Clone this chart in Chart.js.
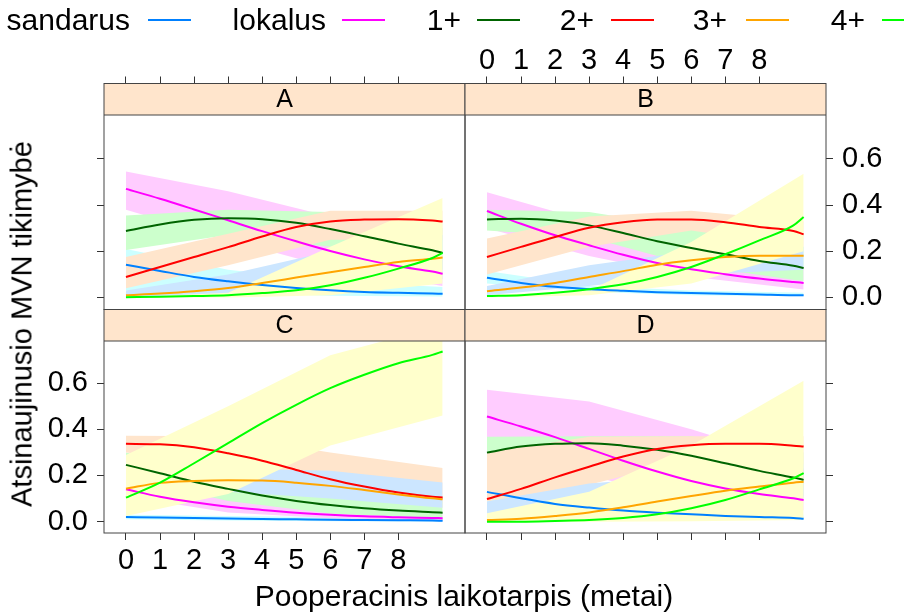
<!DOCTYPE html>
<html>
<head>
<meta charset="utf-8">
<script src="https://cdn.jsdelivr.net/npm/chart.js@4.4.1/dist/chart.umd.min.js"></script>
<style>
  html, body { margin: 0; padding: 0; background: #fff; }
  #wrap { position: relative; width: 904px; height: 615px; overflow: hidden;
          font-family: "Liberation Sans", Arial, sans-serif; color: #000; }
  #wrap canvas { position: absolute; left: 0; top: 0; }
  .lg { position: absolute; top: 5px; font-size: 30px; line-height: 30px; white-space: nowrap; }
  .lk { position: absolute; top: 19px; width: 43px; height: 0; border-top: 2px solid; }
  .ttl { position: absolute; font-size: 29px; line-height: 29px; white-space: nowrap; }
</style>
</head>
<body>
<div id="wrap">
  <canvas id="pA" width="904" height="615"></canvas>
  <canvas id="pB" width="904" height="615"></canvas>
  <canvas id="pC" width="904" height="615"></canvas>
  <canvas id="pD" width="904" height="615"></canvas>
  <div id="legend"></div>
  <div class="ttl" style="left:22px; top:324px; transform: translate(-50%, -50%) rotate(-90deg);">Atsinaujinusio MVN tikimybė</div>
  <div class="ttl" style="left:464px; top:581px; font-size:30px; line-height:30px; transform: translateX(-50%);">Pooperacinis laikotarpis (metai)</div>
</div>
<script>
const groups = ['sandarus', 'lokalus', '1+', '2+', '3+', '4+'];
const lineColors = ['#0080ff', '#ff00ff', '#006400', '#ff0000', '#ffa500', '#00ff00'];
const bandColors = ['#ccffff', '#ffccff', '#ccffcc', '#ffe5cc', '#cce6ff', '#ffffcc'];

const lineYears = [0, 1, 2, 3, 4, 5, 6, 7, 8, 9, 9.3];
const bandYears = [0, 3, 6, 9.3];
const xTicks = [0, 1, 2, 3, 4, 5, 6, 7, 8];
const yTicks = [0, 0.2, 0.4, 0.6];

// fitted curves, one row per group (sandarus, lokalus, 1+, 2+, 3+, 4+)
const linesA = [
  [0.142, 0.115, 0.089, 0.070, 0.054, 0.041, 0.031, 0.024, 0.020, 0.017, 0.016],
  [0.470, 0.427, 0.381, 0.334, 0.287, 0.243, 0.201, 0.165, 0.135, 0.112, 0.103],
  [0.288, 0.316, 0.336, 0.343, 0.339, 0.323, 0.296, 0.265, 0.233, 0.204, 0.193],
  [0.089, 0.132, 0.175, 0.218, 0.264, 0.305, 0.329, 0.337, 0.339, 0.333, 0.329],
  [0.010, 0.017, 0.027, 0.041, 0.063, 0.086, 0.109, 0.132, 0.154, 0.168, 0.173],
  [0.001, 0.003, 0.006, 0.010, 0.019, 0.031, 0.053, 0.085, 0.125, 0.171, 0.193]
];
const lowA = [
  [0.030, 0.020, 0.008, 0.004], [0.380, 0.250, 0.130, 0.050], [0.205, 0.270, 0.220, 0.120],
  [0.040, 0.140, 0.250, 0.250], [0.000, 0.010, 0.040, 0.080], [0.000, 0.000, 0.010, 0.060]
];
const highA = [
  [0.210, 0.120, 0.070, 0.045], [0.545, 0.460, 0.350, 0.170], [0.355, 0.380, 0.370, 0.300],
  [0.175, 0.276, 0.375, 0.375], [0.030, 0.100, 0.200, 0.270], [0.000, 0.020, 0.220, 0.430]
];

const linesB = [
  [0.085, 0.063, 0.046, 0.036, 0.029, 0.023, 0.019, 0.016, 0.013, 0.010, 0.010],
  [0.374, 0.319, 0.269, 0.226, 0.185, 0.149, 0.122, 0.101, 0.082, 0.067, 0.063],
  [0.338, 0.341, 0.333, 0.312, 0.279, 0.243, 0.214, 0.187, 0.158, 0.137, 0.128],
  [0.175, 0.219, 0.262, 0.302, 0.326, 0.338, 0.338, 0.326, 0.305, 0.288, 0.273],
  [0.027, 0.043, 0.063, 0.089, 0.114, 0.142, 0.161, 0.175, 0.181, 0.181, 0.181],
  [0.006, 0.010, 0.020, 0.036, 0.057, 0.089, 0.132, 0.187, 0.247, 0.312, 0.348]
];
const lowB = [
  [0.060, 0.025, 0.010, 0.005], [0.300, 0.180, 0.090, 0.035], [0.290, 0.260, 0.140, 0.070],
  [0.100, 0.220, 0.290, 0.220], [0.010, 0.050, 0.100, 0.120], [0.000, 0.010, 0.060, 0.200]
];
const highB = [
  [0.115, 0.050, 0.030, 0.020], [0.455, 0.330, 0.200, 0.120], [0.380, 0.370, 0.300, 0.220],
  [0.255, 0.350, 0.375, 0.330], [0.050, 0.140, 0.200, 0.220], [0.010, 0.030, 0.240, 0.535]
];

const linesC = [
  [0.020, 0.018, 0.016, 0.014, 0.012, 0.010, 0.008, 0.007, 0.006, 0.005, 0.004],
  [0.140, 0.108, 0.084, 0.065, 0.051, 0.039, 0.030, 0.023, 0.019, 0.016, 0.015],
  [0.246, 0.210, 0.173, 0.142, 0.113, 0.090, 0.072, 0.058, 0.048, 0.041, 0.039],
  [0.337, 0.335, 0.322, 0.296, 0.264, 0.224, 0.184, 0.152, 0.126, 0.108, 0.105],
  [0.143, 0.168, 0.176, 0.179, 0.178, 0.169, 0.155, 0.137, 0.118, 0.101, 0.097],
  [0.104, 0.169, 0.253, 0.340, 0.427, 0.506, 0.578, 0.636, 0.686, 0.722, 0.737]
];
const lowC = [
  [0.010, 0.005, 0.002, 0.001], [0.110, 0.040, 0.015, 0.005], [0.190, 0.090, 0.035, 0.015],
  [0.300, 0.250, 0.140, 0.060], [0.100, 0.130, 0.100, 0.060], [0.025, 0.120, 0.330, 0.460]
];
const highC = [
  [0.030, 0.025, 0.020, 0.015], [0.170, 0.100, 0.050, 0.035], [0.300, 0.200, 0.120, 0.090],
  [0.372, 0.370, 0.300, 0.232], [0.200, 0.230, 0.220, 0.170], [0.289, 0.500, 0.720, 0.850]
];

const linesD = [
  [0.129, 0.101, 0.077, 0.061, 0.048, 0.039, 0.032, 0.025, 0.020, 0.016, 0.013],
  [0.455, 0.412, 0.366, 0.315, 0.264, 0.217, 0.176, 0.144, 0.120, 0.101, 0.094],
  [0.299, 0.325, 0.337, 0.340, 0.329, 0.311, 0.285, 0.253, 0.220, 0.191, 0.181],
  [0.098, 0.142, 0.192, 0.238, 0.282, 0.315, 0.331, 0.337, 0.337, 0.329, 0.325],
  [0.007, 0.013, 0.025, 0.040, 0.062, 0.087, 0.111, 0.134, 0.152, 0.169, 0.173],
  [0.000, 0.000, 0.003, 0.007, 0.016, 0.032, 0.058, 0.094, 0.140, 0.188, 0.210]
];
const lowD = [
  [0.080, 0.030, 0.015, 0.007], [0.340, 0.200, 0.090, 0.050], [0.230, 0.280, 0.200, 0.110],
  [0.087, 0.160, 0.270, 0.250], [0.000, 0.020, 0.060, 0.100], [0.000, 0.000, 0.002, 0.007]
];
const highD = [
  [0.200, 0.100, 0.050, 0.030], [0.571, 0.520, 0.400, 0.250], [0.368, 0.370, 0.370, 0.300],
  [0.300, 0.368, 0.370, 0.370], [0.087, 0.165, 0.200, 0.230], [0.036, 0.130, 0.330, 0.610]
];

const FONT = '"Liberation Sans", Arial, sans-serif';
Chart.defaults.font.family = FONT;

// legend (lattice style: text then a short line)
const legendPos = [[130, 148], [326, 342], [461, 477], [594, 611], [727, 746], [865, 882]];
const legendEl = document.getElementById('legend');
groups.forEach((g, i) => {
  const t = document.createElement('div');
  t.className = 'lg';
  t.style.right = (904 - legendPos[i][0]) + 'px';
  t.textContent = g;
  legendEl.appendChild(t);
  const k = document.createElement('div');
  k.className = 'lk';
  k.style.left = legendPos[i][1] + 'px';
  k.style.borderColor = lineColors[i];
  legendEl.appendChild(k);
});

// strip on top of each panel + panel frame
const stripPlugin = {
  id: 'strip',
  afterDatasetsDraw(chart, args, opts) {
    const ctx = chart.ctx, a = chart.chartArea;
    ctx.save();
    ctx.fillStyle = '#ffe5cc';
    ctx.fillRect(a.left, a.top, a.right - a.left, opts.height);
    ctx.strokeStyle = '#444';
    ctx.lineWidth = 1;
    ctx.beginPath();
    ctx.moveTo(a.left, a.top + opts.height);
    ctx.lineTo(a.right, a.top + opts.height);
    ctx.stroke();
    ctx.strokeRect(a.left, a.top, a.right - a.left, a.bottom - a.top);
    ctx.fillStyle = '#000';
    ctx.font = '25px ' + FONT;
    ctx.textAlign = 'center';
    ctx.textBaseline = 'middle';
    ctx.fillText(opts.text, (a.left + a.right) / 2, a.top + opts.height / 2 + 1);
    ctx.restore();
  }
};

function panelDatasets(lines, low, high) {
  const sets = [];
  groups.forEach((g, i) => {
    sets.push({
      label: g + ' low', data: bandYears.map((x, k) => ({ x, y: low[i][k] })),
      borderWidth: 0, borderColor: 'rgba(0,0,0,0)', pointRadius: 0, fill: false, tension: 0,
      order: 200 - i * 10
    });
    sets.push({
      label: g + ' high', data: bandYears.map((x, k) => ({ x, y: high[i][k] })),
      borderWidth: 0, borderColor: 'rgba(0,0,0,0)', backgroundColor: bandColors[i],
      pointRadius: 0, fill: '-1', tension: 0, order: 200 - i * 10
    });
  });
  groups.forEach((g, i) => {
    sets.push({
      label: g, data: lineYears.map((x, k) => ({ x, y: lines[i][k] })),
      borderColor: lineColors[i], borderWidth: 2, pointRadius: 0, fill: false,
      cubicInterpolationMode: 'monotone', order: 5 - i
    });
  });
  return sets;
}

const panels = [
  { id: 'pA', name: 'A', lines: linesA, low: lowA, high: highA, xPos: 'top', yPos: 'left',
    xLabels: false, yLabels: false, xSize: 83.5, ySize: 104, yMin: -0.052, yMax: 0.926,
    pad: { left: 0, top: 0, right: 439, bottom: 305.5 } },
  { id: 'pB', name: 'B', lines: linesB, low: lowB, high: highB, xPos: 'top', yPos: 'right',
    xLabels: true, yLabels: true, xSize: 83.5, ySize: 78, yMin: -0.052, yMax: 0.926,
    pad: { left: 465, top: 0, right: 0, bottom: 305.5 } },
  { id: 'pC', name: 'C', lines: linesC, low: lowC, high: highC, xPos: 'bottom', yPos: 'left',
    xLabels: true, yLabels: true, xSize: 82, ySize: 104, yMin: -0.049, yMax: 0.9186,
    pad: { left: 0, top: 309.5, right: 439, bottom: 0 } },
  { id: 'pD', name: 'D', lines: linesD, low: lowD, high: highD, xPos: 'bottom', yPos: 'right',
    xLabels: false, yLabels: false, xSize: 82, ySize: 78, yMin: -0.049, yMax: 0.9186,
    pad: { left: 465, top: 309.5, right: 0, bottom: 0 } }
];

panels.forEach(p => {
  new Chart(document.getElementById(p.id), {
    type: 'line',
    data: { datasets: panelDatasets(p.lines, p.low, p.high) },
    plugins: [stripPlugin],
    options: {
      responsive: false,
      animation: false,
      events: [],
      layout: { padding: p.pad },
      plugins: {
        legend: { display: false },
        tooltip: { enabled: false },
        filler: { propagate: false },
        strip: { text: p.name, height: 31.5 }
      },
      scales: {
        x: {
          type: 'linear', position: p.xPos, min: -0.645, max: 9.957,
          afterBuildTicks: s => { s.ticks = xTicks.map(v => ({ value: v })); },
          afterFit: s => { s.height = p.xSize; },
          grid: { display: true, drawOnChartArea: false, drawTicks: true, tickLength: 7, color: '#333' },
          border: { display: false },
          ticks: { display: p.xLabels, autoSkip: false, maxRotation: 0,
                   padding: p.xPos === 'top' ? -2 : 4, color: '#000',
                   font: { size: 29 }, callback: v => String(v) }
        },
        y: {
          type: 'linear', position: p.yPos, min: p.yMin, max: p.yMax,
          afterBuildTicks: s => { s.ticks = yTicks.map(v => ({ value: v })); },
          afterFit: s => { s.width = p.ySize; },
          grid: { display: true, drawOnChartArea: false, drawTicks: true, tickLength: 7, color: '#333' },
          border: { display: false },
          ticks: { display: p.yLabels, autoSkip: false, padding: 9, color: '#000',
                   font: { size: 29 }, callback: v => v.toFixed(1) }
        }
      }
    }
  });
});
</script>
</body>
</html>
